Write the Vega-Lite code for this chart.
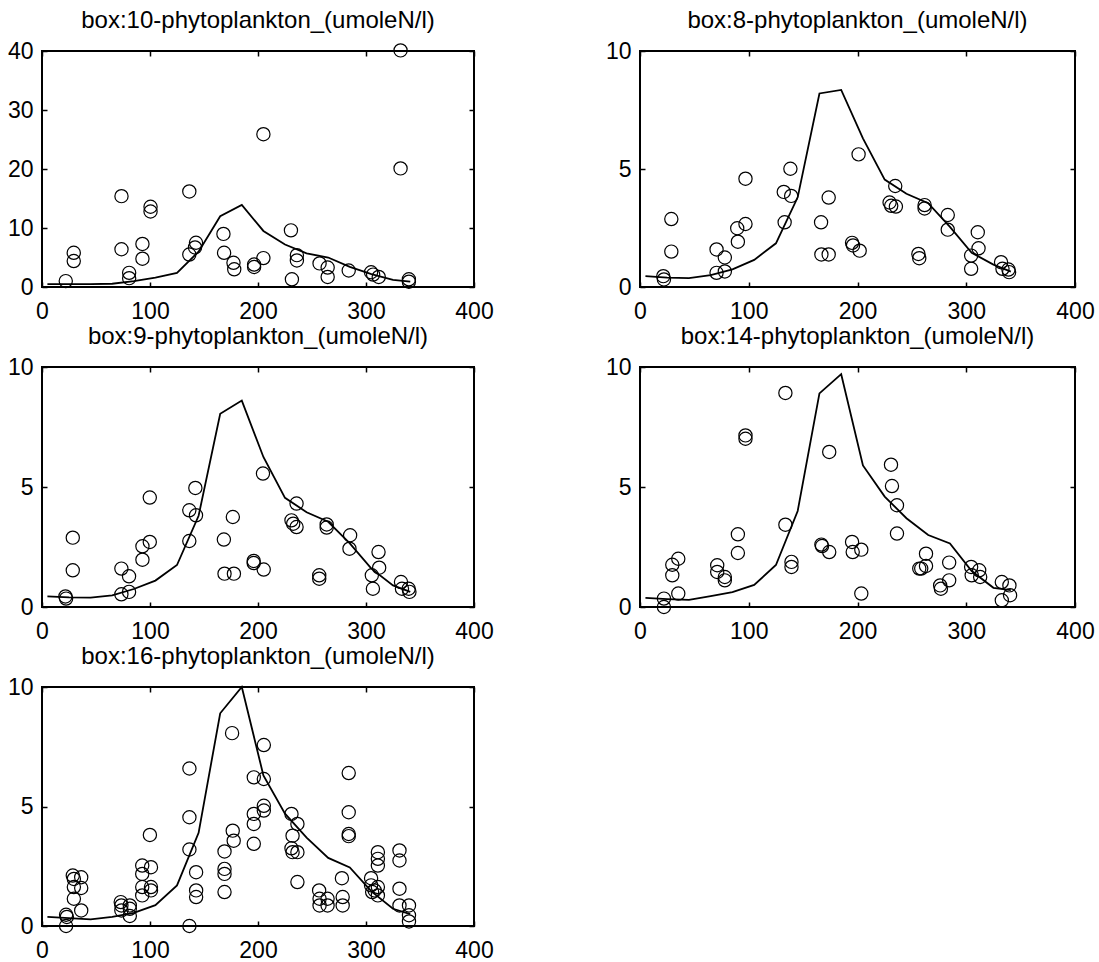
{
  "$schema": "https://vega.github.io/schema/vega-lite/v6.json",
  "background": "white",
  "padding": {"left": 6, "top": 8, "right": 0, "bottom": 0},
  "datasets": {
    "obs": [
      {"box":10,"day":22,"val":1.0},{"box":10,"day":29.4,"val":5.8},{"box":10,"day":29.4,"val":4.4},{"box":10,"day":73.6,"val":15.4},{"box":10,"day":73.6,"val":6.4},{"box":10,"day":80.7,"val":2.4},{"box":10,"day":80.7,"val":1.5},{"box":10,"day":93,"val":7.3},{"box":10,"day":93,"val":4.8},{"box":10,"day":100.5,"val":13.6},{"box":10,"day":100.5,"val":12.8},{"box":10,"day":136.4,"val":16.2},{"box":10,"day":136.4,"val":5.5},{"box":10,"day":142.6,"val":7.5},{"box":10,"day":141.7,"val":6.7},{"box":10,"day":168,"val":9.0},{"box":10,"day":168.6,"val":5.8},{"box":10,"day":177.3,"val":4.1},{"box":10,"day":178,"val":3.0},{"box":10,"day":196.4,"val":3.8},{"box":10,"day":196.4,"val":3.4},{"box":10,"day":205,"val":25.9},{"box":10,"day":205,"val":4.9},{"box":10,"day":230.5,"val":9.6},{"box":10,"day":231.4,"val":1.3},{"box":10,"day":236,"val":5.4},{"box":10,"day":236,"val":4.5},{"box":10,"day":257,"val":4.0},{"box":10,"day":264.5,"val":3.3},{"box":10,"day":264.5,"val":1.7},{"box":10,"day":284,"val":2.8},{"box":10,"day":304.7,"val":2.5},{"box":10,"day":306.6,"val":2.1},{"box":10,"day":311.8,"val":1.7},{"box":10,"day":332,"val":40.1},{"box":10,"day":332,"val":20.1},{"box":10,"day":339.7,"val":1.3},{"box":10,"day":339.7,"val":0.9},

      {"box":8,"day":21.4,"val":0.46},{"box":8,"day":22,"val":0.32},{"box":8,"day":28.8,"val":2.88},{"box":8,"day":28.8,"val":1.5},{"box":8,"day":70.4,"val":1.59},{"box":8,"day":70.4,"val":0.6},{"box":8,"day":78,"val":1.25},{"box":8,"day":78,"val":0.66},{"box":8,"day":89.4,"val":2.49},{"box":8,"day":90,"val":1.92},{"box":8,"day":97,"val":4.59},{"box":8,"day":97,"val":2.67},{"box":8,"day":132.2,"val":4.03},{"box":8,"day":133,"val":2.74},{"box":8,"day":138.3,"val":5.01},{"box":8,"day":139,"val":3.86},{"box":8,"day":166.5,"val":2.74},{"box":8,"day":166.8,"val":1.38},{"box":8,"day":173.5,"val":3.79},{"box":8,"day":173.5,"val":1.38},{"box":8,"day":195,"val":1.87},{"box":8,"day":195.9,"val":1.76},{"box":8,"day":201,"val":5.62},{"box":8,"day":202,"val":1.54},{"box":8,"day":229.5,"val":3.58},{"box":8,"day":231,"val":3.44},{"box":8,"day":234.7,"val":4.28},{"box":8,"day":235.3,"val":3.41},{"box":8,"day":256,"val":1.4},{"box":8,"day":256.8,"val":1.22},{"box":8,"day":261.7,"val":3.47},{"box":8,"day":261.7,"val":3.33},{"box":8,"day":283,"val":3.05},{"box":8,"day":283,"val":2.43},{"box":8,"day":304.5,"val":1.33},{"box":8,"day":304.5,"val":0.77},{"box":8,"day":310.6,"val":2.32},{"box":8,"day":311.3,"val":1.64},{"box":8,"day":332,"val":1.05},{"box":8,"day":333.3,"val":0.77},{"box":8,"day":338.8,"val":0.74},{"box":8,"day":339.4,"val":0.63},

      {"box":9,"day":21.7,"val":0.44},{"box":9,"day":22.3,"val":0.35},{"box":9,"day":28.5,"val":2.89},{"box":9,"day":28.5,"val":1.53},{"box":9,"day":73.5,"val":1.6},{"box":9,"day":73.5,"val":0.53},{"box":9,"day":80.6,"val":1.28},{"box":9,"day":80.6,"val":0.63},{"box":9,"day":93,"val":2.53},{"box":9,"day":93,"val":1.97},{"box":9,"day":99.8,"val":4.56},{"box":9,"day":99.8,"val":2.71},{"box":9,"day":136.4,"val":4.03},{"box":9,"day":136.4,"val":2.75},{"box":9,"day":142,"val":4.96},{"box":9,"day":142.6,"val":3.82},{"box":9,"day":168.4,"val":2.81},{"box":9,"day":169,"val":1.39},{"box":9,"day":176.7,"val":3.75},{"box":9,"day":177.7,"val":1.39},{"box":9,"day":196,"val":1.92},{"box":9,"day":196,"val":1.83},{"box":9,"day":204.6,"val":5.56},{"box":9,"day":205.3,"val":1.56},{"box":9,"day":231,"val":3.61},{"box":9,"day":232.6,"val":3.47},{"box":9,"day":235.7,"val":4.31},{"box":9,"day":235.7,"val":3.33},{"box":9,"day":256.7,"val":1.32},{"box":9,"day":256.7,"val":1.18},{"box":9,"day":263.6,"val":3.44},{"box":9,"day":263.6,"val":3.31},{"box":9,"day":285.3,"val":2.99},{"box":9,"day":284.7,"val":2.43},{"box":9,"day":305.4,"val":1.32},{"box":9,"day":306.4,"val":0.76},{"box":9,"day":311.6,"val":2.29},{"box":9,"day":312.2,"val":1.64},{"box":9,"day":332.4,"val":1.04},{"box":9,"day":333.3,"val":0.76},{"box":9,"day":339.5,"val":0.76},{"box":9,"day":340.2,"val":0.63},

      {"box":14,"day":22,"val":0.35},{"box":14,"day":22,"val":0.0},{"box":14,"day":29.7,"val":1.76},{"box":14,"day":29.7,"val":1.32},{"box":14,"day":35.2,"val":2.01},{"box":14,"day":35.2,"val":0.56},{"box":14,"day":71,"val":1.74},{"box":14,"day":71,"val":1.46},{"box":14,"day":78,"val":1.25},{"box":14,"day":78,"val":1.11},{"box":14,"day":90,"val":3.03},{"box":14,"day":90,"val":2.25},{"box":14,"day":97,"val":7.15},{"box":14,"day":97,"val":7.01},{"box":14,"day":133.7,"val":8.92},{"box":14,"day":133.7,"val":3.43},{"box":14,"day":139.3,"val":1.88},{"box":14,"day":139.3,"val":1.67},{"box":14,"day":166.8,"val":2.6},{"box":14,"day":167.4,"val":2.54},{"box":14,"day":174,"val":6.46},{"box":14,"day":174,"val":2.29},{"box":14,"day":195,"val":2.71},{"box":14,"day":195.6,"val":2.29},{"box":14,"day":203.5,"val":2.39},{"box":14,"day":203.5,"val":0.56},{"box":14,"day":230.8,"val":5.93},{"box":14,"day":231.7,"val":5.04},{"box":14,"day":236.3,"val":4.24},{"box":14,"day":236.3,"val":3.06},{"box":14,"day":256.8,"val":1.6},{"box":14,"day":258.6,"val":1.6},{"box":14,"day":263,"val":2.22},{"box":14,"day":263,"val":1.71},{"box":14,"day":276,"val":0.9},{"box":14,"day":276.7,"val":0.76},{"box":14,"day":284.3,"val":1.85},{"box":14,"day":284.3,"val":1.11},{"box":14,"day":304.5,"val":1.67},{"box":14,"day":305,"val":1.32},{"box":14,"day":311.9,"val":1.53},{"box":14,"day":312.8,"val":1.25},{"box":14,"day":332.7,"val":1.04},{"box":14,"day":332.7,"val":0.28},{"box":14,"day":339.7,"val":0.9},{"box":14,"day":340.3,"val":0.49},

      {"box":16,"day":22.3,"val":0.47},{"box":16,"day":23,"val":0.38},{"box":16,"day":22.3,"val":0.0},{"box":16,"day":28.5,"val":2.11},{"box":16,"day":29.5,"val":1.97},{"box":16,"day":29.5,"val":1.63},{"box":16,"day":29.5,"val":1.14},{"box":16,"day":36.3,"val":2.04},{"box":16,"day":36.3,"val":1.59},{"box":16,"day":36.3,"val":0.65},
      {"box":16,"day":72.9,"val":1.0},{"box":16,"day":73.5,"val":0.86},{"box":16,"day":73.5,"val":0.65},{"box":16,"day":81.3,"val":0.86},{"box":16,"day":81.3,"val":0.72},{"box":16,"day":81.3,"val":0.42},
      {"box":16,"day":92.8,"val":2.53},{"box":16,"day":92.8,"val":2.18},{"box":16,"day":92.8,"val":1.63},{"box":16,"day":92.8,"val":1.28},{"box":16,"day":99.9,"val":3.81},{"box":16,"day":100.9,"val":2.46},{"box":16,"day":100.9,"val":1.63},{"box":16,"day":100.9,"val":1.49},
      {"box":16,"day":136.5,"val":6.59},{"box":16,"day":136.5,"val":4.55},{"box":16,"day":136.5,"val":3.2},{"box":16,"day":136.5,"val":0.0},{"box":16,"day":142.7,"val":2.25},{"box":16,"day":142.7,"val":1.49},{"box":16,"day":142.7,"val":1.21},
      {"box":16,"day":169,"val":3.12},{"box":16,"day":169,"val":2.39},{"box":16,"day":169,"val":2.18},{"box":16,"day":169,"val":1.42},{"box":16,"day":176.6,"val":3.99},{"box":16,"day":177.5,"val":3.57},{"box":16,"day":176,"val":8.07},
      {"box":16,"day":196.1,"val":6.22},{"box":16,"day":196.1,"val":4.69},{"box":16,"day":196.1,"val":4.27},{"box":16,"day":196.1,"val":3.44},{"box":16,"day":205.4,"val":7.57},{"box":16,"day":205.4,"val":6.15},{"box":16,"day":205.4,"val":5.03},{"box":16,"day":205.4,"val":4.83},
      {"box":16,"day":231,"val":4.69},{"box":16,"day":232,"val":3.78},{"box":16,"day":231,"val":3.25},{"box":16,"day":232,"val":3.09},{"box":16,"day":236.5,"val":4.27},{"box":16,"day":236.5,"val":3.09},{"box":16,"day":236.5,"val":1.84},
      {"box":16,"day":256.6,"val":1.49},{"box":16,"day":257,"val":1.14},{"box":16,"day":257,"val":0.86},{"box":16,"day":264.4,"val":1.14},{"box":16,"day":264.4,"val":0.86},
      {"box":16,"day":277.7,"val":2.0},{"box":16,"day":278.4,"val":1.21},{"box":16,"day":278.4,"val":0.86},{"box":16,"day":284,"val":6.4},{"box":16,"day":284,"val":4.76},{"box":16,"day":284,"val":3.85},{"box":16,"day":284,"val":3.76},
      {"box":16,"day":304.7,"val":2.0},{"box":16,"day":304.7,"val":1.7},{"box":16,"day":305.7,"val":1.42},{"box":16,"day":311,"val":3.09},{"box":16,"day":311,"val":2.81},{"box":16,"day":311,"val":2.53},{"box":16,"day":311,"val":1.63},{"box":16,"day":311,"val":1.28},{"box":16,"day":308,"val":1.49},
      {"box":16,"day":331,"val":3.16},{"box":16,"day":331,"val":2.74},{"box":16,"day":331,"val":1.56},{"box":16,"day":331,"val":0.86},{"box":16,"day":339.8,"val":0.86},{"box":16,"day":339.8,"val":0.45},{"box":16,"day":339.8,"val":0.19}
    ],
    "model": [
      {"box":10,"day":5,"val":0.5},{"box":10,"day":25,"val":0.5},{"box":10,"day":45,"val":0.5},{"box":10,"day":65,"val":0.55},{"box":10,"day":85,"val":1.0},{"box":10,"day":105,"val":1.6},{"box":10,"day":125,"val":2.4},{"box":10,"day":145,"val":6.0},{"box":10,"day":165,"val":12.0},{"box":10,"day":185,"val":13.9},{"box":10,"day":205,"val":9.5},{"box":10,"day":225,"val":7.2},{"box":10,"day":245,"val":5.7},{"box":10,"day":265,"val":5.0},{"box":10,"day":285,"val":3.4},{"box":10,"day":305,"val":2.2},{"box":10,"day":325,"val":1.2},{"box":10,"day":341,"val":0.9},

      {"box":8,"day":5,"val":0.46},{"box":8,"day":25,"val":0.4},{"box":8,"day":45,"val":0.38},{"box":8,"day":65,"val":0.5},{"box":8,"day":85,"val":0.75},{"box":8,"day":105,"val":1.15},{"box":8,"day":125,"val":1.85},{"box":8,"day":145,"val":3.8},{"box":8,"day":165,"val":8.2},{"box":8,"day":185,"val":8.35},{"box":8,"day":205,"val":6.3},{"box":8,"day":225,"val":4.55},{"box":8,"day":245,"val":3.95},{"box":8,"day":265,"val":3.55},{"box":8,"day":285,"val":2.55},{"box":8,"day":305,"val":1.45},{"box":8,"day":325,"val":0.95},{"box":8,"day":341,"val":0.65},

      {"box":9,"day":5,"val":0.44},{"box":9,"day":25,"val":0.4},{"box":9,"day":45,"val":0.39},{"box":9,"day":65,"val":0.48},{"box":9,"day":85,"val":0.75},{"box":9,"day":105,"val":1.1},{"box":9,"day":125,"val":1.75},{"box":9,"day":145,"val":3.8},{"box":9,"day":165,"val":8.05},{"box":9,"day":185,"val":8.6},{"box":9,"day":205,"val":6.25},{"box":9,"day":225,"val":4.55},{"box":9,"day":245,"val":3.95},{"box":9,"day":265,"val":3.55},{"box":9,"day":285,"val":2.65},{"box":9,"day":305,"val":1.6},{"box":9,"day":325,"val":0.9},{"box":9,"day":341,"val":0.63},

      {"box":14,"day":5,"val":0.38},{"box":14,"day":25,"val":0.33},{"box":14,"day":45,"val":0.3},{"box":14,"day":65,"val":0.45},{"box":14,"day":85,"val":0.62},{"box":14,"day":105,"val":0.92},{"box":14,"day":125,"val":1.75},{"box":14,"day":145,"val":4.0},{"box":14,"day":165,"val":8.9},{"box":14,"day":185,"val":9.7},{"box":14,"day":205,"val":5.9},{"box":14,"day":225,"val":4.6},{"box":14,"day":245,"val":3.7},{"box":14,"day":265,"val":3.0},{"box":14,"day":285,"val":2.65},{"box":14,"day":305,"val":1.5},{"box":14,"day":325,"val":0.8},{"box":14,"day":341,"val":0.7},

      {"box":16,"day":5,"val":0.38},{"box":16,"day":25,"val":0.33},{"box":16,"day":45,"val":0.28},{"box":16,"day":65,"val":0.38},{"box":16,"day":85,"val":0.55},{"box":16,"day":105,"val":0.87},{"box":16,"day":125,"val":1.7},{"box":16,"day":145,"val":3.9},{"box":16,"day":165,"val":8.9},{"box":16,"day":185,"val":10.0},{"box":16,"day":205,"val":6.3},{"box":16,"day":225,"val":4.7},{"box":16,"day":245,"val":3.7},{"box":16,"day":265,"val":2.85},{"box":16,"day":285,"val":2.45},{"box":16,"day":305,"val":1.45},{"box":16,"day":325,"val":0.72},{"box":16,"day":341,"val":0.5}
    ]
  },
  "vconcat": [
    {
      "hconcat": [
        {
          "title": "box:10-phytoplankton_(umoleN/l)",
          "width": 432, "height": 236,
          "layer": [
            {"data": {"name": "model"}, "transform": [{"filter": "datum.box === 10"}],
             "mark": {"type": "line", "color": "black", "strokeWidth": 1.8},
             "encoding": {
               "x": {"field": "day", "type": "quantitative", "title": null, "scale": {"domain": [0, 400], "nice": false}, "axis": {"orient": "bottom", "values": [0, 100, 200, 300, 400]}},
               "y": {"field": "val", "type": "quantitative", "title": null, "scale": {"domain": [0, 40], "nice": false}, "axis": {"orient": "left", "values": [0, 10, 20, 30, 40]}}}},
            {"data": {"name": "obs"}, "transform": [{"filter": "datum.box === 10"}],
             "mark": {"type": "point", "shape": "circle", "filled": false, "stroke": "black", "strokeWidth": 1.2, "size": 175, "opacity": 1},
             "encoding": {
               "x": {"field": "day", "type": "quantitative", "title": null, "scale": {"domain": [0, 400], "nice": false}, "axis": {"orient": "top", "labels": false, "values": [0, 100, 200, 300, 400]}},
               "y": {"field": "val", "type": "quantitative", "title": null, "scale": {"domain": [0, 40], "nice": false}, "axis": {"orient": "right", "labels": false, "values": [0, 10, 20, 30, 40]}}}}
          ],
          "resolve": {"scale": {"x": "independent", "y": "independent"}}
        },
        {
          "title": "box:8-phytoplankton_(umoleN/l)",
          "width": 435, "height": 236,
          "layer": [
            {"data": {"name": "model"}, "transform": [{"filter": "datum.box === 8"}],
             "mark": {"type": "line", "color": "black", "strokeWidth": 1.8},
             "encoding": {
               "x": {"field": "day", "type": "quantitative", "title": null, "scale": {"domain": [0, 400], "nice": false}, "axis": {"orient": "bottom", "values": [0, 100, 200, 300, 400]}},
               "y": {"field": "val", "type": "quantitative", "title": null, "scale": {"domain": [0, 10], "nice": false}, "axis": {"orient": "left", "values": [0, 5, 10]}}}},
            {"data": {"name": "obs"}, "transform": [{"filter": "datum.box === 8"}],
             "mark": {"type": "point", "shape": "circle", "filled": false, "stroke": "black", "strokeWidth": 1.2, "size": 175, "opacity": 1},
             "encoding": {
               "x": {"field": "day", "type": "quantitative", "title": null, "scale": {"domain": [0, 400], "nice": false}, "axis": {"orient": "top", "labels": false, "values": [0, 100, 200, 300, 400]}},
               "y": {"field": "val", "type": "quantitative", "title": null, "scale": {"domain": [0, 10], "nice": false}, "axis": {"orient": "right", "labels": false, "values": [0, 5, 10]}}}}
          ],
          "resolve": {"scale": {"x": "independent", "y": "independent"}}
        }
      ],
      "spacing": 109
    },
    {
      "hconcat": [
        {
          "title": "box:9-phytoplankton_(umoleN/l)",
          "width": 432, "height": 240,
          "layer": [
            {"data": {"name": "model"}, "transform": [{"filter": "datum.box === 9"}],
             "mark": {"type": "line", "color": "black", "strokeWidth": 1.8},
             "encoding": {
               "x": {"field": "day", "type": "quantitative", "title": null, "scale": {"domain": [0, 400], "nice": false}, "axis": {"orient": "bottom", "values": [0, 100, 200, 300, 400]}},
               "y": {"field": "val", "type": "quantitative", "title": null, "scale": {"domain": [0, 10], "nice": false}, "axis": {"orient": "left", "values": [0, 5, 10]}}}},
            {"data": {"name": "obs"}, "transform": [{"filter": "datum.box === 9"}],
             "mark": {"type": "point", "shape": "circle", "filled": false, "stroke": "black", "strokeWidth": 1.2, "size": 175, "opacity": 1},
             "encoding": {
               "x": {"field": "day", "type": "quantitative", "title": null, "scale": {"domain": [0, 400], "nice": false}, "axis": {"orient": "top", "labels": false, "values": [0, 100, 200, 300, 400]}},
               "y": {"field": "val", "type": "quantitative", "title": null, "scale": {"domain": [0, 10], "nice": false}, "axis": {"orient": "right", "labels": false, "values": [0, 5, 10]}}}}
          ],
          "resolve": {"scale": {"x": "independent", "y": "independent"}}
        },
        {
          "title": "box:14-phytoplankton_(umoleN/l)",
          "width": 435, "height": 240,
          "layer": [
            {"data": {"name": "model"}, "transform": [{"filter": "datum.box === 14"}],
             "mark": {"type": "line", "color": "black", "strokeWidth": 1.8},
             "encoding": {
               "x": {"field": "day", "type": "quantitative", "title": null, "scale": {"domain": [0, 400], "nice": false}, "axis": {"orient": "bottom", "values": [0, 100, 200, 300, 400]}},
               "y": {"field": "val", "type": "quantitative", "title": null, "scale": {"domain": [0, 10], "nice": false}, "axis": {"orient": "left", "values": [0, 5, 10]}}}},
            {"data": {"name": "obs"}, "transform": [{"filter": "datum.box === 14"}],
             "mark": {"type": "point", "shape": "circle", "filled": false, "stroke": "black", "strokeWidth": 1.2, "size": 175, "opacity": 1},
             "encoding": {
               "x": {"field": "day", "type": "quantitative", "title": null, "scale": {"domain": [0, 400], "nice": false}, "axis": {"orient": "top", "labels": false, "values": [0, 100, 200, 300, 400]}},
               "y": {"field": "val", "type": "quantitative", "title": null, "scale": {"domain": [0, 10], "nice": false}, "axis": {"orient": "right", "labels": false, "values": [0, 5, 10]}}}}
          ],
          "resolve": {"scale": {"x": "independent", "y": "independent"}}
        }
      ],
      "spacing": 109
    },
    {
      "hconcat": [
        {
          "title": "box:16-phytoplankton_(umoleN/l)",
          "width": 432, "height": 239,
          "layer": [
            {"data": {"name": "model"}, "transform": [{"filter": "datum.box === 16"}],
             "mark": {"type": "line", "color": "black", "strokeWidth": 1.8},
             "encoding": {
               "x": {"field": "day", "type": "quantitative", "title": null, "scale": {"domain": [0, 400], "nice": false}, "axis": {"orient": "bottom", "values": [0, 100, 200, 300, 400]}},
               "y": {"field": "val", "type": "quantitative", "title": null, "scale": {"domain": [0, 10], "nice": false}, "axis": {"orient": "left", "values": [0, 5, 10]}}}},
            {"data": {"name": "obs"}, "transform": [{"filter": "datum.box === 16"}],
             "mark": {"type": "point", "shape": "circle", "filled": false, "stroke": "black", "strokeWidth": 1.2, "size": 175, "opacity": 1},
             "encoding": {
               "x": {"field": "day", "type": "quantitative", "title": null, "scale": {"domain": [0, 400], "nice": false}, "axis": {"orient": "top", "labels": false, "values": [0, 100, 200, 300, 400]}},
               "y": {"field": "val", "type": "quantitative", "title": null, "scale": {"domain": [0, 10], "nice": false}, "axis": {"orient": "right", "labels": false, "values": [0, 5, 10]}}}}
          ],
          "resolve": {"scale": {"x": "independent", "y": "independent"}}
        }
      ]
    }
  ],
  "spacing": 0,
  "config": {
    "font": "Liberation Sans",
    "view": {"stroke": "black", "strokeWidth": 2},
    "axis": {"grid": false, "domain": false, "ticks": true, "tickSize": -5, "tickColor": "black", "tickWidth": 1.5, "labelFont": "Liberation Sans", "labelFontSize": 23, "labelColor": "black", "labelFlush": false, "labelOverlap": false, "labelBound": false},
    "axisX": {"labelPadding": 18},
    "axisY": {"labelPadding": 14},
    "title": {"font": "Liberation Sans", "fontSize": 24, "fontWeight": "normal", "color": "black", "offset": 7, "anchor": "middle", "frame": "group"}
  }
}
